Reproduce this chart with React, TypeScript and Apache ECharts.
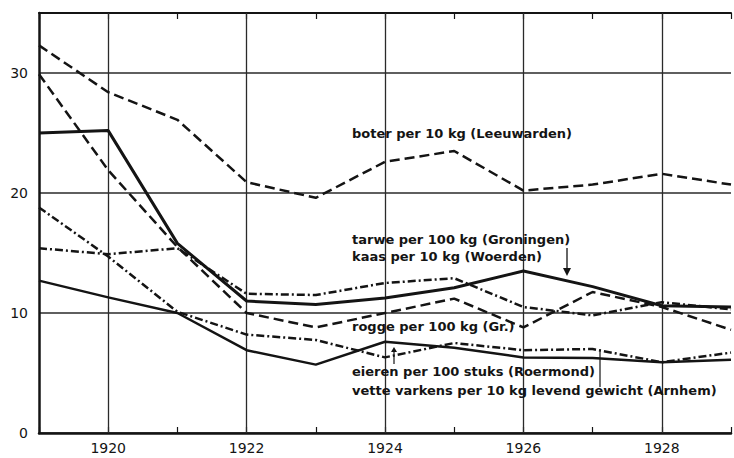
import React, { useEffect, useRef } from "react";
import * as echarts from "echarts";

const years = [1919, 1920, 1921, 1922, 1923, 1924, 1925, 1926, 1927, 1928, 1929];
const boter = [32.3, 28.4, 26.1, 20.9, 19.6, 22.6, 23.5, 20.2, 20.7, 21.6, 20.7];
const kaas = [25.0, 25.2, 15.8, 11.0, 10.7, 11.25, 12.1, 13.5, 12.2, 10.6, 10.5];
const tarwe = [15.4, 14.9, 15.4, 11.6, 11.5, 12.5, 12.9, 10.5, 9.8, 10.9, 10.3];
const rogge = [29.9, 21.9, 15.5, 10.0, 8.8, 10.0, 11.2, 8.8, 11.75, 10.5, 8.6];
const eieren = [12.7, 11.3, 10.0, 6.9, 5.7, 7.6, 7.1, 6.3, 6.25, 5.9, 6.1];
const varkens = [18.8, 14.7, 10.1, 8.2, 7.75, 6.3, 7.5, 6.9, 7.0, 5.9, 6.7];
const gridYears = [1920, 1922, 1924, 1926, 1928];
const yTicks = [0, 10, 20, 30];

const FONT = "DejaVu Sans";
const INK = "#141414";

const pairs = (v: number[]) => years.map((y, i) => [y, v[i]]);

export default function App() {
  const ref = useRef<HTMLDivElement>(null);
  useEffect(() => {
    if (!ref.current) return;
    const chart = echarts.init(ref.current, null, { renderer: "svg" });
    const line = (name: string, data: number[], type: any, width: number) => ({
      name,
      type: "line",
      data: pairs(data),
      symbol: "none",
      silent: true,
      lineStyle: { color: INK, width, type },
      z: 5,
    });
    const label = (text: string, left: number, top: number) => ({
      type: "text",
      left,
      top,
      style: { text, fill: INK, font: `bold 13px "${FONT}"` },
      z: 20,
    });
    chart.setOption({
      animation: false,
      backgroundColor: "#ffffff",
      grid: { left: 39, top: 13, width: 699, height: 420 },
      xAxis: [
        {
          type: "value",
          min: 1919,
          max: 1929,
          interval: 1,
          position: "bottom",
          axisLine: { show: true, lineStyle: { color: INK, width: 2.5 } },
          axisTick: { show: true, inside: true, length: 6, lineStyle: { color: INK, width: 1.2 } },
          splitLine: { show: false },
          axisLabel: {
            color: INK,
            fontFamily: FONT,
            fontSize: 14,
            margin: 8,
            formatter: (v: number) => (gridYears.includes(v) ? String(v) : ""),
          },
        },
        {
          type: "value",
          min: 1919,
          max: 1929,
          interval: 1,
          position: "top",
          axisLine: { show: true, lineStyle: { color: INK, width: 2 } },
          axisTick: { show: true, inside: true, length: 6, lineStyle: { color: INK, width: 1.2 } },
          splitLine: { show: false },
          axisLabel: { show: false },
        },
      ],
      yAxis: {
        type: "value",
        min: 0,
        max: 35,
        interval: 10,
        axisLine: { show: true, lineStyle: { color: INK, width: 2.5 } },
        axisTick: { show: false },
        splitLine: { show: true, lineStyle: { color: "#2a2a2a", width: 1.5 } },
        axisLabel: {
          color: INK,
          fontFamily: FONT,
          fontSize: 14,
          margin: 11,
          formatter: (v: number) => (yTicks.includes(v) ? String(v) : ""),
        },
      },
      series: [
        {
          type: "line",
          data: [],
          silent: true,
          markLine: {
            silent: true,
            symbol: "none",
            label: { show: false },
            lineStyle: { color: "#2a2a2a", width: 1.3, type: "solid" },
            data: gridYears.map((y) => ({ xAxis: y })),
          },
        },
        line("boter per 10 kg (Leeuwarden)", boter, [10, 5], 2.5),
        line("kaas per 10 kg (Woerden)", kaas, "solid", 3),
        line("tarwe per 100 kg (Groningen)", tarwe, [8, 3, 2, 3], 2.5),
        line("rogge per 100 kg (Gr.)", rogge, [10, 5], 2.5),
        line("eieren per 100 stuks (Roermond)", eieren, "solid", 2.5),
        line("vette varkens per 10 kg levend gewicht (Arnhem)", varkens, [8, 3, 2, 3], 2.5),
      ],
      graphic: [
        label("boter per 10 kg (Leeuwarden)", 352, 127),
        label("tarwe per 100 kg (Groningen)", 352, 233),
        label("kaas per 10 kg (Woerden)", 352, 250),
        label("rogge per 100 kg (Gr.)", 352, 320),
        label("eieren per 100 stuks (Roermond)", 352, 365),
        label("vette varkens per 10 kg levend gewicht (Arnhem)", 352, 384),
        { type: "line", shape: { x1: 567, y1: 248, x2: 567, y2: 272 }, style: { stroke: INK, lineWidth: 1.3 }, z: 20 },
        { type: "polygon", shape: { points: [[563, 268], [571, 268], [567, 276]] }, style: { fill: INK }, z: 20 },
        { type: "line", shape: { x1: 394, y1: 350, x2: 394, y2: 364 }, style: { stroke: INK, lineWidth: 1.2 }, z: 20 },
        { type: "polygon", shape: { points: [[391, 352], [397, 352], [394, 347]] }, style: { fill: INK }, z: 20 },
        { type: "line", shape: { x1: 600, y1: 350, x2: 600, y2: 387 }, style: { stroke: INK, lineWidth: 1.2 }, z: 20 },
      ],
    });
    return () => chart.dispose();
  }, []);
  return (
    <div
      ref={ref}
      style={{ position: "fixed", left: 0, top: 0, width: 734, height: 458, background: "#fff" }}
    />
  );
}
